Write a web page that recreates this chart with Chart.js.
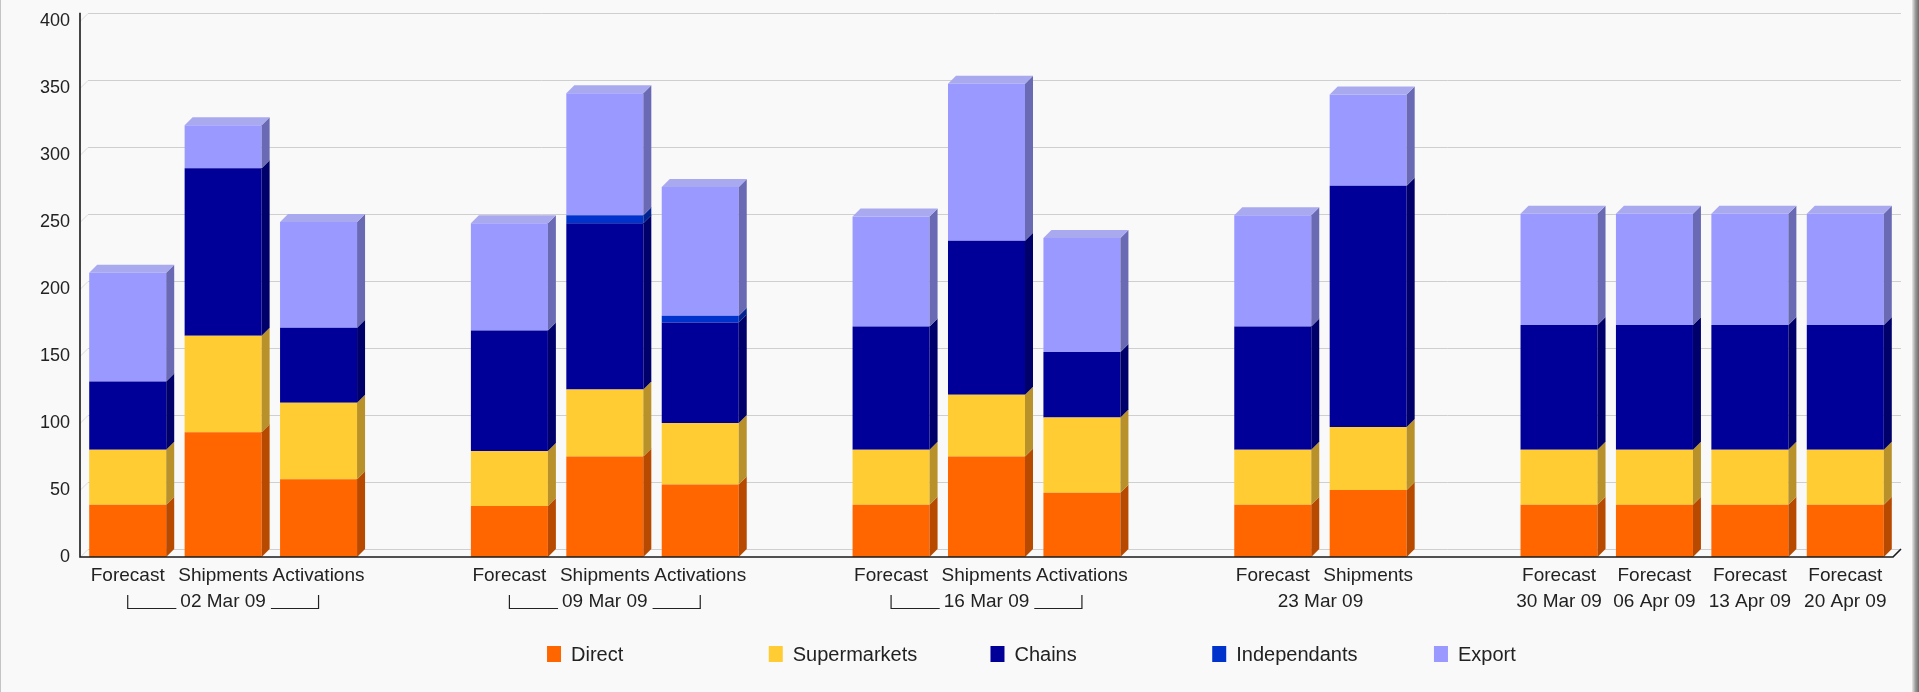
<!DOCTYPE html>
<html>
<head>
<meta charset="utf-8">
<script src="https://cdn.jsdelivr.net/npm/chart.js@4.4.1/dist/chart.umd.min.js"></script>
<style>
  html, body { margin: 0; padding: 0; background: #f9f9f9; overflow: hidden; }
  #wrap { position: relative; width: 1919px; height: 692px; }
</style>
</head>
<body>
<div id="wrap"><canvas id="c"></canvas></div>
<script>
// ---- data ----
const categories = ['Forecast','Shipments','Activations','',
                    'Forecast','Shipments','Activations','',
                    'Forecast','Shipments','Activations','',
                    'Forecast','Shipments','',
                    'Forecast','Forecast','Forecast','Forecast'];
const direct       = [39, 93, 58, null, 38, 75, 54, null, 39, 75, 48, null, 39, 50, null, 39, 39, 39, 39];
const supermarkets = [41, 72, 57, null, 41, 50, 46, null, 41, 46, 56, null, 41, 47, null, 41, 41, 41, 41];
const chains       = [51,125, 56, null, 90,124, 75, null, 92,115, 49, null, 92,180, null, 93, 93, 93, 93];
const independants = [ 0,  0,  0, null,  0,  6,  5, null,  0,  0,  0, null,  0,  0, null,  0,  0,  0,  0];
const exportVals   = [81, 32, 79, null, 80, 91, 96, null, 82,117, 85, null, 83, 68, null, 83, 83, 83, 83];
const seriesNames  = ['Direct','Supermarkets','Chains','Independants','Export'];
const dateLabels   = ['02 Mar 09','09 Mar 09','16 Mar 09','23 Mar 09','30 Mar 09','06 Apr 09','13 Apr 09','20 Apr 09'];
const groupFirst   = [0, 4, 8, 12, 15, 16, 17, 18];
const groupLast    = [2, 6, 10, 13, 15, 16, 17, 18];
const yTicks       = [0, 50, 100, 150, 200, 250, 300, 350, 400];

// ---- styles ----
const frontColors = ['#FF6600', '#FFCC33', '#000099', '#0033CC', '#9999FF'];
const sideColors  = ['#B84A00', '#B8912A', '#00006A', '#00238F', '#6A6AB4'];
const topColors   = ['#FF9A55', '#FFDC75', '#4545B5', '#4D70DB', '#A9A9F0'];
const DEPTH = 8;
const FONT = '"Liberation Sans", Arial, sans-serif';

const plugin3d = {
  id: 'plugin3d',
  beforeDraw(chart) {
    const ctx = chart.ctx, W = chart.width, H = chart.height;
    ctx.save();
    ctx.fillStyle = '#f9f9f9';
    ctx.fillRect(0, 0, W, H);
    // frame edges
    ctx.fillStyle = '#c4c4c4';
    ctx.fillRect(0, 0, 1, H);
    const g = ctx.createLinearGradient(W - 7, 0, W, 0);
    g.addColorStop(0, '#e8e8e8');
    g.addColorStop(0.5, '#9a9a9a');
    g.addColorStop(1, '#6a6a6a');
    ctx.fillStyle = g;
    ctx.fillRect(W - 7, 0, 7, H);
    ctx.restore();
  },
  beforeDatasetsDraw(chart) {
    const ctx = chart.ctx, a = chart.chartArea, y = chart.scales.y;
    ctx.save();
    ctx.lineWidth = 1;
    yTicks.forEach(v => {
      const yf = Math.round(y.getPixelForValue(v)) + 0.5;
      const yb = yf - DEPTH;
      ctx.strokeStyle = '#cfcfcf';
      ctx.beginPath();
      ctx.moveTo(a.left + DEPTH, yb);
      ctx.lineTo(a.right + DEPTH, yb);
      ctx.stroke();
      ctx.strokeStyle = '#dcdcdc';
      ctx.beginPath();
      ctx.moveTo(a.left, yf);
      ctx.lineTo(a.left + DEPTH, yb);
      ctx.stroke();
    });
    ctx.restore();
  },
  afterDatasetsDraw(chart) {
    const ctx = chart.ctx, a = chart.chartArea;
    const n = chart.data.labels.length;
    ctx.save();
    for (let j = 0; j < n; j++) {
      let topIdx = -1;
      chart.data.datasets.forEach((ds, i) => { if (ds.data[j]) topIdx = i; });
      chart.data.datasets.forEach((ds, i) => {
        const v = ds.data[j];
        if (!v) return;
        const el = chart.getDatasetMeta(i).data[j];
        const p = el.getProps(['x', 'y', 'base', 'width'], true);
        const l = p.x - p.width / 2, r = p.x + p.width / 2;
        // side face
        ctx.fillStyle = sideColors[i];
        ctx.beginPath();
        ctx.moveTo(r, p.y);
        ctx.lineTo(r + DEPTH, p.y - DEPTH);
        ctx.lineTo(r + DEPTH, p.base - DEPTH);
        ctx.lineTo(r, p.base);
        ctx.closePath();
        ctx.fill();
        if (i === topIdx) {
          ctx.fillStyle = topColors[i];
          ctx.beginPath();
          ctx.moveTo(l, p.y);
          ctx.lineTo(l + DEPTH, p.y - DEPTH);
          ctx.lineTo(r + DEPTH, p.y - DEPTH);
          ctx.lineTo(r, p.y);
          ctx.closePath();
          ctx.fill();
        }
      });
    }
    // axes
    const y = chart.scales.y;
    ctx.strokeStyle = '#1a1a1a';
    ctx.lineWidth = 1.6;
    ctx.beginPath();
    ctx.moveTo(a.left, y.getPixelForValue(400) - DEPTH);
    ctx.lineTo(a.left, a.bottom);
    ctx.lineTo(a.right, a.bottom);
    ctx.lineTo(a.right + DEPTH, a.bottom - DEPTH);
    ctx.stroke();
    ctx.restore();
  },
  afterDraw(chart) {
    const ctx = chart.ctx, a = chart.chartArea, x = chart.scales.x;
    ctx.save();
    ctx.font = '19px ' + FONT;
    ctx.fillStyle = '#222';
    ctx.strokeStyle = '#222';
    ctx.lineWidth = 1.2;
    ctx.textBaseline = 'middle';
    ctx.textAlign = 'center';
    const ty = a.bottom + 45;
    dateLabels.forEach((txt, k) => {
      const x1 = x.getPixelForValue(groupFirst[k]);
      const x2 = x.getPixelForValue(groupLast[k]);
      const cx = (x1 + x2) / 2;
      ctx.fillText(txt, cx, ty);
      if (groupLast[k] - groupFirst[k] >= 2) {
        const tw = ctx.measureText(txt).width;
        const ly = Math.round(ty + 6) + 0.5;
        ctx.beginPath();
        ctx.moveTo(x1, ty - 7);
        ctx.lineTo(x1, ly);
        ctx.lineTo(cx - tw / 2 - 4, ly);
        ctx.moveTo(cx + tw / 2 + 5, ly);
        ctx.lineTo(x2, ly);
        ctx.lineTo(x2, ty - 7);
        ctx.stroke();
      }
    });
    // legend
    ctx.font = '20px ' + FONT;
    ctx.textAlign = 'left';
    const ly = a.bottom + 97;
    const x0 = a.left + a.width * 0.2576;
    const slot = a.width * 0.1223;
    chart.data.datasets.forEach((ds, i) => {
      const sx = x0 + i * slot;
      ctx.fillStyle = ds.backgroundColor;
      ctx.fillRect(sx, ly - 8, 14, 16);
      ctx.fillStyle = '#222';
      ctx.fillText(ds.label, sx + 24, ly + 1);
    });
    ctx.restore();
  }
};

const seriesData = [direct, supermarkets, chains, independants, exportVals];

new Chart(document.getElementById('c'), {
  type: 'bar',
  data: {
    labels: categories,
    datasets: seriesNames.map((name, i) => ({
      label: name,
      data: seriesData[i],
      backgroundColor: frontColors[i],
      borderWidth: 0,
      barPercentage: 0.807,
      categoryPercentage: 1.0
    }))
  },
  options: {
    responsive: true,
    maintainAspectRatio: false,
    animation: false,
    layout: { padding: { left: 0, right: 26, top: 20, bottom: 0 } },
    plugins: { legend: { display: false }, tooltip: { enabled: false } },
    scales: {
      x: {
        stacked: true,
        grid: { display: false, drawTicks: false },
        border: { display: false },
        ticks: { autoSkip: false, maxRotation: 0, minRotation: 0, padding: 7,
                 color: '#222', font: { family: FONT, size: 19 } },
        afterFit(scale) { scale.height = 135; }
      },
      y: {
        stacked: true,
        min: 0, max: 400,
        grid: { display: false, drawTicks: false },
        border: { display: false },
        ticks: { stepSize: 50, padding: 10, color: '#222', font: { family: FONT, size: 18 } },
        afterFit(scale) { scale.width = 80; }
      }
    }
  },
  plugins: [plugin3d]
});
</script>
</body>
</html>
